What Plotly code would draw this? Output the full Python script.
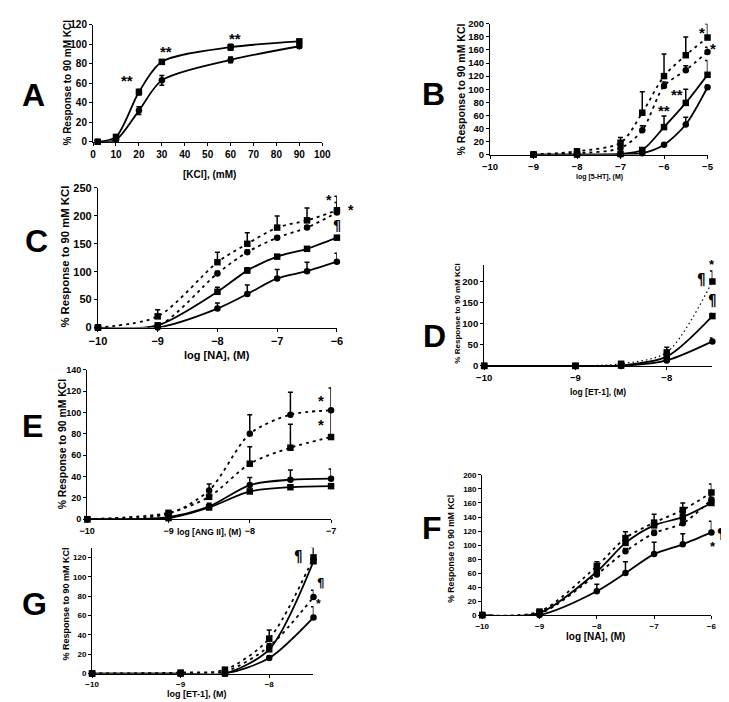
import plotly.graph_objects as go

W, H = 729, 702
FONT = "Liberation Sans, Arial, sans-serif"
PILCROW_FONT = "DejaVu Sans Condensed, DejaVu Sans, sans-serif"

# ---------------- Data ----------------
# Panel A
A_x = [2, 10, 20, 30, 60, 90]
A_sq = [0, 5, 51, 82, 97, 103]
A_sq_err = [1, 2, 3, 2, 3, 2]
A_ci = [0, 2, 32, 63, 84, 98]
A_ci_err = [1, 2, 4, 5, 3, 2]
A_xticks = [0, 10, 20, 30, 40, 50, 60, 70, 80, 90, 100]
A_yticks = [0, 20, 40, 60, 80, 100, 120]

# Panel B
B_x = [-9, -8, -7, -6.5, -6, -5.5, -5]
B_dsq = [0, 5, 18, 64, 120, 152, 179]
B_dsq_err = [0, 1, 8, 32, 34, 28, 21]
B_dci = [0, 2, 10, 37, 105, 129, 157]
B_dci_err = [0, 1, 3, 7, 6, 7, 7]
B_ssq = [0, 0, 1, 7, 42, 79, 122]
B_ssq_err = [0, 0, 1, 2, 17, 21, 22]
B_sci = [0, 0, 0, 2, 15, 46, 103]
B_sci_err = [0, 0, 0, 1, 2, 11, 3]
B_xticks = [-10, -9, -8, -7, -6, -5]
B_yticks = [0, 20, 40, 60, 80, 100, 120, 140, 160, 180, 200]

# Panel C
C_x = [-10, -9, -8, -7.5, -7, -6.5, -6]
C_dsq = [0, 20, 117, 150, 179, 192, 210]
C_dsq_err = [0, 12, 18, 20, 21, 22, 25]
C_dci = [0, 3, 97, 135, 161, 179, 206]
C_dci_err = [0, 2, 4, 4, 3, 3, 18]
C_ssq = [0, 4, 64, 102, 127, 141, 161]
C_ssq_err = [0, 2, 8, 5, 3, 3, 3]
C_sci = [0, 0, 34, 60, 88, 101, 118]
C_sci_err = [0, 1, 10, 16, 16, 16, 15]
C_xticks = [-10, -9, -8, -7, -6]
C_yticks = [0, 50, 100, 150, 200, 250]

# Panel D
D_x = [-10, -9, -8.5, -8, -7.5]
D_dsq = [0, 0, 5, 32, 200]
D_dsq_err = [0, 0, 2, 12, 25]
D_ssq = [0, 0, 1, 22, 118]
D_ssq_err = [0, 0, 1, 5, 6]
D_sci = [0, 0, 0, 13, 58]
D_sci_err = [0, 0, 0, 3, 8]
D_xticks = [-10, -9, -8]
D_yticks = [0, 50, 100, 150, 200]

# Panel E
E_x = [-10, -9, -8.5, -8, -7.5, -7]
E_dci = [0, 5, 27, 80, 98, 102]
E_dci_err = [0, 1, 6, 18, 21, 21]
E_dsq = [0, 6, 21, 52, 67, 77]
E_dsq_err = [0, 2, 5, 16, 22, 25]
E_sci = [0, 2, 12, 32, 37, 38]
E_sci_err = [0, 1, 3, 7, 9, 9]
E_ssq = [0, 1, 11, 26, 30, 31]
E_ssq_err = [0, 1, 2, 2, 2, 2]
E_xticks = [-10, -9, -8, -7]
E_yticks = [0, 20, 40, 60, 80, 100, 120, 140]

# Panel F
F_x = [-10, -9, -8, -7.5, -7, -6.5, -6]
F_dsq = [0, 5, 70, 110, 132, 150, 175]
F_dsq_err = [0, 1, 6, 9, 12, 10, 12]
F_dci = [0, 2, 58, 91, 117, 131, 165]
F_dci_err = [0, 1, 4, 4, 4, 4, 5]
F_ssq = [0, 3, 62, 103, 128, 140, 160]
F_ssq_err = [0, 1, 5, 6, 5, 5, 5]
F_sci = [0, 0, 34, 60, 87, 101, 118]
F_sci_err = [0, 0, 10, 16, 17, 15, 16]
F_xticks = [-10, -9, -8, -7, -6]
F_yticks = [0, 20, 40, 60, 80, 100, 120, 140, 160, 180, 200]

# Panel G
G_x = [-10, -9, -8.5, -8, -7.5]
G_dsq = [0, 1, 4, 36, 120]
G_dsq_err = [0, 1, 2, 9, 11]
G_dci = [0, 0, 2, 28, 79]
G_dci_err = [0, 0, 1, 3, 7]
G_ssq = [0, 0, 0, 25, 116]
G_ssq_err = [0, 0, 0, 3, 15]
G_sci = [0, 0, 0, 16, 58]
G_sci_err = [0, 0, 0, 2, 11]
G_xticks = [-10, -9, -8]
G_yticks = [0, 20, 40, 60, 80, 100, 120]

YTITLE = "% Response to 90 mM KCl"

DASH = "3px,4px"
DOT = "1.5px,3px"

panels = [
    dict(n=1, box=(78, 313, 11, 130), xr=[0, 100], yr=[0, 120], xt=A_xticks, yt=A_yticks, tf=10,
         series=[(A_x, A_sq, A_sq_err, "square", "solid", True),
                 (A_x, A_ci, A_ci_err, "circle", "solid", True)]),
    dict(n=2, box=(485, 708, 10, 143), xr=[-10, -5], yr=[0, 200], xt=B_xticks, yt=B_yticks, tf=9.5,
         series=[(B_x, B_dsq, B_dsq_err, "square", DASH, False),
                 (B_x, B_dci, B_dci_err, "circle", DASH, False),
                 (B_x, B_ssq, B_ssq_err, "square", "solid", False),
                 (B_x, B_sci, B_sci_err, "circle", "solid", False)]),
    dict(n=3, box=(83, 328, 177, 319), xr=[-10, -6], yr=[0, 250], xt=C_xticks, yt=C_yticks, tf=11,
         series=[(C_x, C_dsq, C_dsq_err, "square", DASH, False),
                 (C_x, C_dci, C_dci_err, "circle", DASH, False),
                 (C_x, C_ssq, C_ssq_err, "square", "solid", False),
                 (C_x, C_sci, C_sci_err, "circle", "solid", False)]),
    dict(n=4, box=(479, 713, 255, 358), xr=[-10, -7.5], yr=[0, 240], xt=D_xticks, yt=D_yticks, tf=9.5,
         series=[(D_x, D_dsq, D_dsq_err, "square", DOT, False),
                 (D_x, D_ssq, D_ssq_err, "square", "solid", False),
                 (D_x, D_sci, D_sci_err, "circle", "solid", False)]),
    dict(n=5, box=(72, 322, 362, 514), xr=[-10, -7], yr=[0, 140], xt=E_xticks, yt=E_yticks, tf=9,
         series=[(E_x, E_dci, E_dci_err, "circle", DASH, False),
                 (E_x, E_dsq, E_dsq_err, "square", DASH, False),
                 (E_x, E_sci, E_sci_err, "circle", "solid", False),
                 (E_x, E_ssq, E_ssq_err, "square", "solid", False)]),
    dict(n=6, box=(477, 712, 469, 611.5), xr=[-10, -6], yr=[0, 200], xt=F_xticks, yt=F_yticks, tf=8,
         series=[(F_x, F_dsq, F_dsq_err, "square", DASH, False),
                 (F_x, F_dci, F_dci_err, "circle", DASH, False),
                 (F_x, F_ssq, F_ssq_err, "square", "solid", False),
                 (F_x, F_sci, F_sci_err, "circle", "solid", False)]),
    dict(n=7, box=(77, 304, 543, 671), xr=[-10, -7.5], yr=[0, 130], xt=G_xticks, yt=G_yticks, tf=8,
         series=[(G_x, G_dsq, G_dsq_err, "square", DASH, False),
                 (G_x, G_dci, G_dci_err, "circle", DASH, False),
                 (G_x, G_ssq, G_ssq_err, "square", "solid", False),
                 (G_x, G_sci, G_sci_err, "circle", "solid", False)]),
]
PBY = {p["n"]: p for p in panels}

fig = go.Figure()
layout = dict(width=W, height=H, margin=dict(l=0, r=0, t=0, b=0),
              paper_bgcolor="white", plot_bgcolor="white", showlegend=False,
              font=dict(family=FONT, color="black", weight="bold"))


def px2x(p):
    return p / W


def px2y(p):
    return 1 - p / H


for p in panels:
    n = p["n"]
    x0, x1, yt_, yb = p["box"]
    sfx = "" if n == 1 else str(n)
    common = dict(showline=True, linecolor="black", linewidth=1.2, ticks="outside",
                  ticklen=3, tickcolor="black", tickwidth=1, showgrid=False, zeroline=False,
                  tickfont=dict(size=p["tf"], family=FONT, weight="bold"), fixedrange=True)
    layout["xaxis" + sfx] = dict(domain=[px2x(x0), px2x(x1)], range=p["xr"], anchor="y" + sfx,
                                 tickvals=p["xt"], **common)
    layout["yaxis" + sfx] = dict(domain=[px2y(yb), px2y(yt_)], range=p["yr"], anchor="x" + sfx,
                                 tickvals=p["yt"], **common)
    for (xs, ys, es, sym, dash, sym_err) in p["series"]:
        lw = 1.2 if dash == DOT else 1.8
        fig.add_trace(go.Scatter(
            x=xs, y=ys, mode="lines+markers", xaxis="x" + sfx, yaxis="y" + sfx,
            line=dict(color="black", width=lw, dash=dash, shape="spline", smoothing=0.8),
            marker=dict(symbol=sym, size=6.5, color="black"),
            error_y=dict(type="data", array=es,
                         arrayminus=(es if sym_err else [0] * len(es)),
                         symmetric=False, color="black", thickness=1.5, width=2.5),
            cliponaxis=False, hoverinfo="skip"))

ann = []


def txt(x, y, s, size, angle=0, family=FONT, weight="bold"):
    ann.append(dict(x=x, y=y, xref="paper", yref="paper", text=s, showarrow=False, textangle=angle,
                    xanchor="center", yanchor="middle",
                    font=dict(size=size, family=family, color="black", weight=weight)))


# Panel letters
for letter, cx, cy in [("A", 17, 82), ("B", 427, 81), ("C", 20, 231), ("D", 428, 328),
                       ("E", 16, 419), ("F", 426, 523), ("G", 18, 600)]:
    txt(px2x(cx), px2y(cy), letter, 32)

# Axis titles (x)
for s, cx, cy, sz in [("[KCl], (mM)", 197, 163, 10), ("log [5-HT], (M)", 597, 166, 7),
                      ("log [NA], (M)", 205, 347, 11), ("log [ET-1], (M)", 596, 385, 8.5),
                      ("log [ANG II], (M)", 197, 527, 8.5), ("log [NA], (M)", 593, 633, 10),
                      ("log [ET-1], (M)", 185, 692, 9)]:
    txt(px2x(cx), px2y(cy), s, sz)

# Axis titles (y)
for cx, cy, sz in [(52, 70, 10), (455, 77, 10.5), (49, 247, 11.3), (452, 305, 8),
                   (47, 437, 10.4), (445, 544, 8.6), (50, 600, 9)]:
    txt(px2x(cx), px2y(cy), YTITLE, sz, angle=-90)

# Significance marks (placed in each panel's data coordinates, converted to page)
marks = [
    (1, 15, 63, "**", 15), (1, 32, 93, "**", 15), (1, 62, 106, "**", 15),
    (2, -5.13, 187, "*", 15), (2, -4.87, 162, "*", 15), (2, -5.7, 92, "**", 15), (2, -6.0, 68, "**", 15),
    (3, -6.14, 229, "*", 14), (3, -5.76, 210, "*", 14), (3, -6.0, 183, "¶", 14),
    (4, -7.62, 203, "¶", 15), (4, -7.5, 153, "¶", 15), (4, -7.5, 240, "*", 13),
    (5, -7.12, 111, "*", 15), (5, -7.12, 89, "*", 15),
    (6, -5.84, 117, "¶", 14), (6, -5.98, 98, "*", 13),
    (7, -7.67, 120, "¶", 15), (7, -7.42, 94, "¶", 13), (7, -7.44, 72, "*", 12),
]
for n, x, y, s, sz in marks:
    p = PBY[n]
    x0, x1, yt_, yb = p["box"]
    xr, yr = p["xr"], p["yr"]
    pxx = x0 + (x - xr[0]) / (xr[1] - xr[0]) * (x1 - x0)
    pxy = yb - (y - yr[0]) / (yr[1] - yr[0]) * (yb - yt_)
    if s == "¶":
        txt(px2x(pxx), px2y(pxy), "¶\ufe0e", sz, family=PILCROW_FONT, weight="bold")
    else:
        txt(px2x(pxx), px2y(pxy), s, sz)

layout["annotations"] = ann
fig.update_layout(**layout)
fig.write_html("out.html")
